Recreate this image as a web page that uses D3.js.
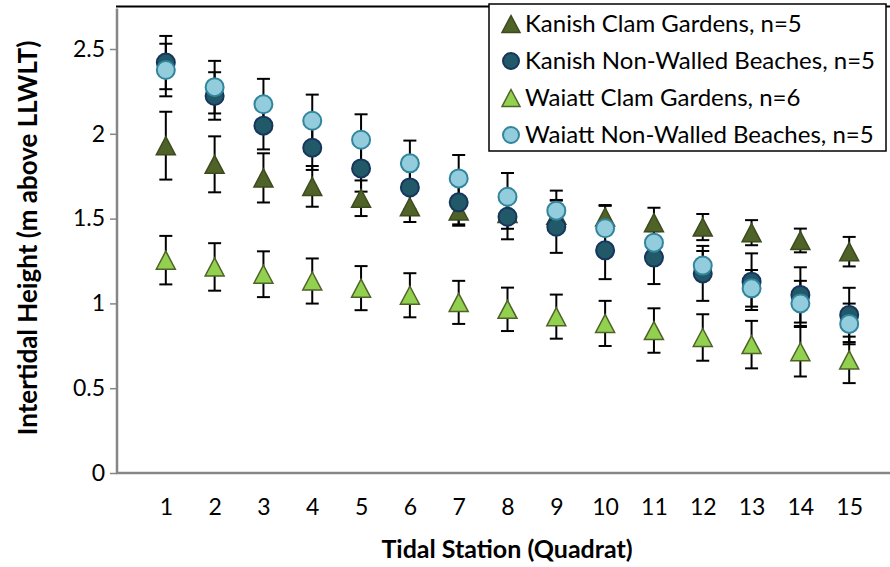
<!DOCTYPE html>
<html>
<head>
<meta charset="utf-8">
<script src="https://cdn.jsdelivr.net/npm/d3@7"></script>
<style>
  body { margin: 0; background: #fff; }
  text { font-family: Lato, "Open Sans", sans-serif; }
</style>
</head>
<body>
<svg></svg>
<script>
// tidal stations on the x axis
var stations = [1, 2, 3, 4, 5, 6, 7, 8, 9, 10, 11, 12, 13, 14, 15];
var yTicks = [0, 0.5, 1, 1.5, 2, 2.5];

// mean intertidal height (m above LLWLT) and error for every series
var kanishCG    = [1.93, 1.82, 1.74, 1.69, 1.62, 1.57, 1.545, 1.53, 1.52, 1.51, 1.476, 1.45, 1.417, 1.371, 1.305];
var kanishCGErr = [0.20, 0.165, 0.145, 0.12, 0.105, 0.09, 0.087, 0.09, 0.09, 0.065, 0.088, 0.077, 0.074, 0.07, 0.087];

var kanishNW    = [2.42, 2.223, 2.048, 1.918, 1.796, 1.684, 1.596, 1.511, 1.452, 1.313, 1.27, 1.177, 1.128, 1.05, 0.932];
var kanishNWErr = [0.157, 0.14, 0.14, 0.131, 0.137, 0.13, 0.13, 0.133, 0.154, 0.17, 0.156, 0.162, 0.167, 0.163, 0.16];

var waiattCG    = [1.255, 1.215, 1.172, 1.132, 1.09, 1.048, 1.006, 0.965, 0.922, 0.882, 0.84, 0.799, 0.757, 0.715, 0.667];
var waiattCGErr = [0.143, 0.14, 0.135, 0.133, 0.13, 0.13, 0.127, 0.128, 0.13, 0.133, 0.131, 0.137, 0.14, 0.146, 0.137];

var waiattNW    = [2.376, 2.275, 2.174, 2.077, 1.965, 1.826, 1.737, 1.629, 1.547, 1.443, 1.358, 1.223, 1.089, 1.0, 0.879];
var waiattNWErr = [0.155, 0.155, 0.15, 0.154, 0.15, 0.134, 0.138, 0.14, 0.118, 0.137, 0.1, 0.086, 0.108, 0.133, 0.12];

var seriesNames = ["Kanish Clam Gardens, n=5", "Kanish Non-Walled Beaches, n=5",
                   "Waiatt Clam Gardens, n=6", "Waiatt Non-Walled Beaches, n=5"];

var series = [
  {name: seriesNames[0], values: kanishCG, err: kanishCGErr, shape: "triangle", fill: "#4F6228", stroke: "#3d4b1f"},
  {name: seriesNames[1], values: kanishNW, err: kanishNWErr, shape: "circle", fill: "#215968", stroke: "#17365d"},
  {name: seriesNames[2], values: waiattCG, err: waiattCGErr, shape: "triangle", fill: "#92D050", stroke: "#4F6228"},
  {name: seriesNames[3], values: waiattNW, err: waiattNWErr, shape: "circle", fill: "#93CDDD", stroke: "#31859C"}
];

var screen = {width: 890, height: 567};

var svg = d3.select("svg")
  .attr("width", screen.width)
  .attr("height", screen.height);

var xScale = d3.scaleLinear()
  .domain([0, 16])
  .range([117, 898]);
var yScale = d3.scaleLinear()
  .domain([0, 2.5])
  .range([473, 49]);

var triPath = function(w, h) {
  return "M0," + (-h / 2) + "L" + (w / 2) + "," + (h / 2) + "L" + (-w / 2) + "," + (h / 2) + "Z";
};

// top frame line
svg.append("line")
  .attr("x1", 116).attr("x2", 890)
  .attr("y1", yScale(2.75)).attr("y2", yScale(2.75))
  .attr("stroke", "#000").attr("stroke-width", 2);

// y axis
var yAxis = d3.axisLeft(yScale)
  .tickValues(yTicks)
  .tickSize(7)
  .tickPadding(5)
  .tickFormat(function(d) { return d; });
var yG = svg.append("g")
  .attr("transform", "translate(" + xScale(0) + ",0)")
  .call(yAxis);
yG.select(".domain").remove();
yG.selectAll("line").attr("stroke", "#868686").attr("stroke-width", 1.5);
yG.selectAll("text")
  .attr("font-family", "Lato, sans-serif")
  .attr("font-size", 23)
  .attr("fill", "#000");
svg.append("line")
  .attr("x1", xScale(0)).attr("x2", xScale(0))
  .attr("y1", yScale(2.75) + 2).attr("y2", yScale(0))
  .attr("stroke", "#868686").attr("stroke-width", 2.5);

// x axis (labels only, no tick marks)
var xAxis = d3.axisBottom(xScale)
  .tickValues(stations)
  .tickSize(0)
  .tickPadding(26)
  .tickFormat(function(d) { return d; });
var xG = svg.append("g")
  .attr("transform", "translate(0," + yScale(0) + ")")
  .call(xAxis);
xG.select(".domain").remove();
xG.selectAll("text")
  .attr("font-family", "Lato, sans-serif")
  .attr("font-size", 23)
  .attr("fill", "#000");
svg.append("line")
  .attr("x1", xScale(0) - 1).attr("x2", 890)
  .attr("y1", yScale(0)).attr("y2", yScale(0))
  .attr("stroke", "#868686").attr("stroke-width", 2.5);

// axis titles
svg.append("text")
  .attr("x", 507).attr("y", 558)
  .attr("text-anchor", "middle")
  .attr("font-size", 25).attr("font-weight", "bold")
  .text("Tidal Station (Quadrat)");
svg.append("text")
  .attr("transform", "translate(37,238) rotate(-90)")
  .attr("text-anchor", "middle")
  .attr("font-size", 26).attr("font-weight", "bold")
  .text("Intertidal Height (m above LLWLT)");

// error bars, all behind the markers
var capW = 6.5;
series.forEach(function(s) {
  var g = svg.append("g").attr("class", "errbars");
  s.values.forEach(function(v, i) {
    var x = xScale(stations[i]);
    var hi = yScale(v + s.err[i]);
    var lo = yScale(v - s.err[i]);
    g.append("line").attr("x1", x).attr("x2", x).attr("y1", hi).attr("y2", lo);
    g.append("line").attr("x1", x - capW).attr("x2", x + capW).attr("y1", hi).attr("y2", hi);
    g.append("line").attr("x1", x - capW).attr("x2", x + capW).attr("y1", lo).attr("y2", lo);
  });
  g.selectAll("line").attr("stroke", "#000").attr("stroke-width", 2);
});

// markers
series.forEach(function(s) {
  var g = svg.append("g").attr("class", "markers");
  if (s.shape == "circle") {
    g.selectAll("circle")
      .data(s.values)
      .enter().append("circle")
      .attr("cx", function(d, i) { return xScale(stations[i]); })
      .attr("cy", function(d) { return yScale(d); })
      .attr("r", 9)
      .attr("fill", s.fill)
      .attr("stroke", s.stroke)
      .attr("stroke-width", 2);
  } else {
    g.selectAll("path")
      .data(s.values)
      .enter().append("path")
      .attr("d", triPath(19, 18))
      .attr("transform", function(d, i) { return "translate(" + xScale(stations[i]) + "," + yScale(d) + ")"; })
      .attr("fill", s.fill)
      .attr("stroke", s.stroke)
      .attr("stroke-width", 1.5);
  }
});

// legend
var legend = svg.append("g").attr("class", "legend");
legend.append("rect")
  .attr("x", 489).attr("y", 4)
  .attr("width", 397).attr("height", 147)
  .attr("fill", "#fff")
  .attr("stroke", "#000")
  .attr("stroke-width", 1.5);
series.forEach(function(s, i) {
  var ly = 24 + i * 37;
  if (s.shape == "circle") {
    legend.append("circle")
      .attr("cx", 511).attr("cy", ly).attr("r", 8)
      .attr("fill", s.fill).attr("stroke", s.stroke).attr("stroke-width", 2);
  } else {
    legend.append("path")
      .attr("d", triPath(18, 17))
      .attr("transform", "translate(511," + ly + ")")
      .attr("fill", s.fill).attr("stroke", s.stroke).attr("stroke-width", 1.5);
  }
  legend.append("text")
    .attr("x", 525).attr("y", ly)
    .attr("dy", "0.35em")
    .attr("font-size", 24)
    .text(s.name);
});
</script>
</body>
</html>
